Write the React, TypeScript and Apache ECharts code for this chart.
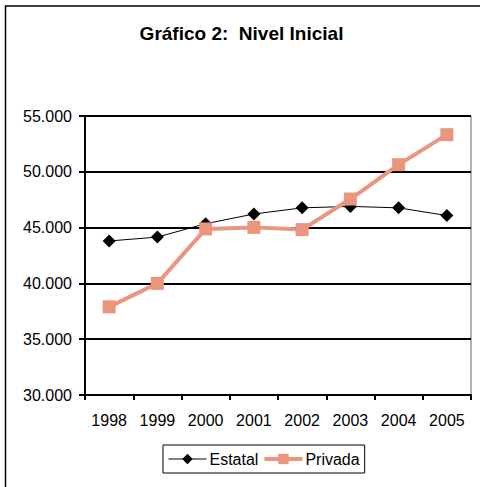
import React, { useEffect, useRef } from "react";
import * as echarts from "echarts";

const years = ["1998", "1999", "2000", "2001", "2002", "2003", "2004", "2005"];
const estatal = [43800, 44150, 45350, 46220, 46770, 46900, 46770, 46080];
const privada = [37900, 40000, 44880, 45020, 44820, 47560, 50640, 53330];
const titleText = "Gráfico 2:  Nivel Inicial";

const fmt = (v: number) => {
  const s = String(Math.round(v));
  return s.replace(/\B(?=(\d{3})+(?!\d))/g, ".");
};

export default function App() {
  const ref = useRef<HTMLDivElement>(null);
  useEffect(() => {
    if (!ref.current) return;
    const chart = echarts.init(ref.current, null, { renderer: "svg" });
    const font = "Liberation Sans, Arial, sans-serif";
    chart.setOption({
      animation: false,
      backgroundColor: "#ffffff",
      textStyle: { fontFamily: font },
      title: {
        text: titleText,
        left: 236.5,
        top: 19,
        textAlign: "center",
        textStyle: { fontSize: 19, fontWeight: "bold", color: "#000", fontFamily: font },
      },
      graphic: [
        {
          type: "rect",
          shape: { x: 5.5, y: 6, width: 500, height: 500 },
          style: { fill: "none", stroke: "#000", lineWidth: 1.5 },
          silent: true,
          z: -1,
        },
      ],
      grid: {
        left: 85,
        right: 9,
        top: 116,
        bottom: 92,
        show: true,
        borderColor: "#666",
        borderWidth: 1,
        backgroundColor: "transparent",
      },
      legend: {
        left: 163,
        top: 445,
        orient: "horizontal",
        padding: [6, 5, 6, 5],
        itemGap: 4,
        itemWidth: 38,
        itemHeight: 13,
        borderColor: "#000",
        borderWidth: 1,
        textStyle: { fontSize: 16, color: "#000", fontFamily: font, padding: [0, 0, 0, -2] },
        data: [
          { name: "Estatal", lineStyle: { width: 1, color: "#000" } },
          { name: "Privada", lineStyle: { width: 4, color: "#EA957D" } },
        ],
      },
      xAxis: {
        type: "category",
        data: years,
        boundaryGap: true,
        axisLine: { show: true, lineStyle: { color: "#000", width: 2 } },
        axisTick: { show: true, length: 5, interval: 0, lineStyle: { color: "#000", width: 2 } },
        axisLabel: { fontSize: 16, color: "#000", margin: 17, fontFamily: font },
        splitLine: { show: false },
      },
      yAxis: {
        type: "value",
        min: 30000,
        max: 55000,
        interval: 5000,
        axisLine: { show: true, lineStyle: { color: "#000", width: 2 } },
        axisTick: { show: true, length: 6, lineStyle: { color: "#000", width: 2 } },
        axisLabel: { fontSize: 16, color: "#000", margin: 13, fontFamily: font, formatter: (v: number) => fmt(v) },
        splitLine: { show: true, lineStyle: { color: "#000", width: 2 } },
      },
      series: [
        {
          name: "Estatal",
          type: "line",
          data: estatal,
          symbol: "diamond",
          symbolSize: 13,
          lineStyle: { color: "#000", width: 1 },
          itemStyle: { color: "#000" },
          z: 3,
        },
        {
          name: "Privada",
          type: "line",
          data: privada,
          symbol: "rect",
          symbolSize: 13,
          lineStyle: { color: "#EA957D", width: 4 },
          itemStyle: { color: "#EA957D" },
          z: 4,
        },
      ],
    });
    return () => chart.dispose();
  }, []);
  return (
    <div
      ref={ref}
      style={{ position: "fixed", left: 0, top: 0, width: 480, height: 487 }}
    />
  );
}
